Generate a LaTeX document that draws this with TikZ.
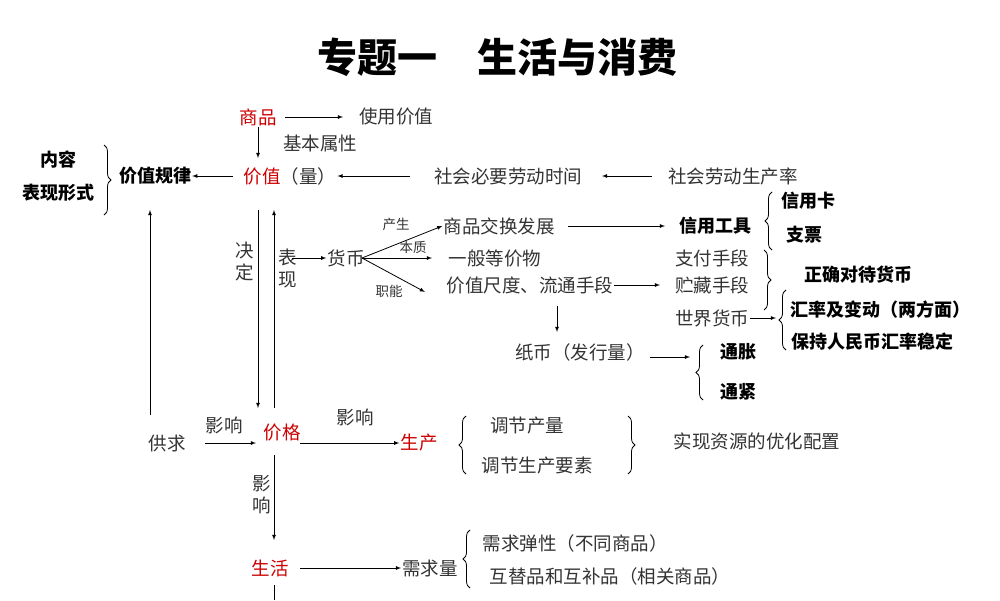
\documentclass[tikz,border=0pt]{standalone}
\usepackage{fontspec}
\setmainfont{Noto Sans CJK SC}
\usetikzlibrary{decorations.pathreplacing}
\begin{document}
\begin{tikzpicture}[x=1pt,y=-1pt,
  t/.style={font=\fontsize{18.5}{22}\selectfont, text=black!80, inner sep=1pt},
  b/.style={font=\fontsize{18}{22}\selectfont\bfseries, text=black, inner sep=1pt},
  r/.style={t, text=red!80!black},
  s/.style={font=\fontsize{13.5}{15}\selectfont, text=black!80, inner sep=1pt},
  ar/.style={-latex, thick},
  br/.style={decorate, decoration={brace, amplitude=7pt}, thick}]
\useasboundingbox (0,0) rectangle (1000,600);
\node[font=\fontsize{40}{46}\selectfont\bfseries] (title) at (497,57) {专题一\quad 生活与消费};
\node[r] (sp) at (258,117) {商品};
\node[t] (syjz) at (396,117) {使用价值};
\draw[ar] (285,117) -- (343,117) coordinate (e1);
\node[t] (jbsx) at (320,143) {基本属性};
\node[t] (jz) at (290,176) {\textcolor{red!80!black}{价值}（量）};
\draw[ar] (sp.south) -- (258,158) coordinate (e2);
\node[b] (jzgl) at (155,176) {价值规律};
\coordinate (jzw) at (233,176);
\draw[ar] (jzw) -- (jzgl.east);
\node[b] (nr) at (58,160) {内容};
\node[b] (bxxs) at (58,193) {表现形式};
\draw[br] (104,145) -- (104,215);
\node[t] (shbyl) at (508,176) {社会必要劳动时间};
\draw[ar] (410,176) -- (jz.east);
\node[t] (shld) at (733,176) {社会劳动生产率};
\draw[ar] (652,176) -- (602,176);
\coordinate (v1a) at (258,210); \coordinate (v1b) at (258,408);
\coordinate (v2a) at (274,408); \coordinate (v2b) at (274,210);
\draw[ar] (v1a) -- (v1b);
\draw[ar] (v2a) -- (v2b);
\node[t, align=center] (jd) at (245,262) {决\\定};
\node[t, align=center] (bx) at (288,268) {表\\现};
\coordinate (gq1) at (150,415); \coordinate (gq2) at (150,210);
\draw[ar] (gq1) -- (gq2);
\node[t] (hb) at (346,258) {货币};
\draw[ar] (292,258) -- (hb.west);
\coordinate (hbr) at (362,258);
\node[t] (spjh) at (499,226) {商品交换发展};
\node[t] (ybdj) at (495,258) {一般等价物};
\node[t] (jzcd) at (530,285) {价值尺度、流通手段};
\draw[ar] (hbr) -- (spjh.west);
\draw[ar] (hbr) -- (432,258);
\draw[ar] (hbr) -- (425,292);
\node[s] (cs) at (396,224) {产生};
\node[s] (bz) at (413,247) {本质};
\node[s] (zn) at (389,291) {职能};
\node[b] (xygj) at (715,226) {信用工具};
\draw[ar] (568,226) -- (665,226);
\draw[br] (772,250) -- (772,192);
\node[b] (xyk) at (808,201) {信用卡};
\node[b] (zp) at (804,235) {支票};
\node[t] (zfsd) at (712,258) {支付手段};
\node[t] (zcsd) at (712,285) {贮藏手段};
\node[t] (sjhb) at (712,318) {世界货币};
\draw[ar] (jzcd.east) -- (660,285);
\draw[br] (764,250) -- (764,310);
\node[b] (zqdd) at (858,275) {正确对待货币};
\draw[ar] (sjhb.east) -- (776,318);
\draw[br] (786,350) -- (786,290);
\node[b] (hl) at (880,310) {汇率及变动（两方面）};
\node[b] (bcrm) at (872,342) {保持人民币汇率稳定};
\coordinate (db) at (557,332);
\draw[ar] (557,306) -- (db);
\node[t] (zb) at (580,352) {纸币（发行量）};
\draw[ar] (650,357) -- (690,357);
\draw[br] (703,400) -- (703,345);
\node[b] (tz) at (738,352) {通胀};
\node[b] (tj) at (738,392) {通紧};
\node[t] (gq) at (167,443) {供求};
\node[r] (jg) at (282,433) {价格};
\draw[ar] (205,443) -- (256,443);
\node[t] (yx1) at (224,425) {影响};
\node[r] (sc) at (419,443) {生产};
\draw[ar] (300,443) -- (sc.west);
\node[t] (yx2) at (355,417) {影响};
\draw[br] (466,474) -- (466,416);
\node[t] (tjcl) at (527,426) {调节产量};
\node[t] (tjsc) at (537,466) {调节生产要素};
\draw[br] (628,416) -- (628,474);
\node[t] (sxzy) at (757,441) {实现资源的优化配置};
\node[t, align=center] (yx3) at (262,495) {影\\响};
\node[r] (sh) at (270,568) {生活};
\draw[ar] (274,455) -- (274,540);
\node[t] (xql) at (430,568) {需求量};
\draw[ar] (300,568) -- (xql.west);
\draw[br] (470,588) -- (470,530);
\node[t] (xqtx) at (575,543) {需求弹性（不同商品）};
\node[t] (htp) at (610,576) {互替品和互补品（相关商品）};
\draw[thick] (274,585) -- (274,600);
\end{tikzpicture}
\end{document}
